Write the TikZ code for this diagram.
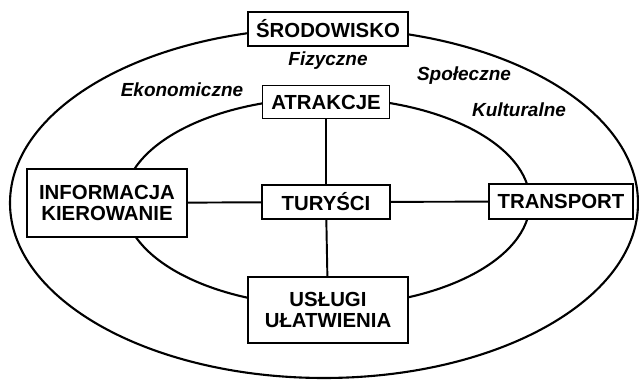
\documentclass[tikz,border=0pt]{standalone}
\usepackage{fontspec}
\setmainfont{Liberation Sans}
\usepackage{tikz}
\usetikzlibrary{positioning}

\begin{document}
\begin{tikzpicture}[
    box/.style={draw, fill=white, line width=0.8pt, inner sep=0pt, align=center,
        font=\fontsize{11.6}{12.4}\selectfont\bfseries},
    factor/.style={font=\fontsize{10.8}{12}\selectfont\bfseries\itshape},
    ring/.style={line width=1.2pt},
    link/.style={line width=1.1pt}]
    \useasboundingbox (0, 0) rectangle (12.78, 7.6);

    % Rings
    \draw[ring] (6.48, 3.54) ellipse [x radius=6.28, y radius=3.5];
    \draw[ring] (6.54, 3.56) ellipse [x radius=4.06, y radius=2.08];

    % Boxes
    \node[box, minimum width=3.2cm, minimum height=0.68cm] (env) at (6.56, 7.02) {ŚRODOWISKO};
    \node[box, minimum width=2.54cm, minimum height=0.66cm] (atr) at (6.52, 5.56) {ATRAKCJE};
    \node[box, minimum width=2.56cm, minimum height=0.68cm] (tur) at (6.52, 3.56) {TURYŚCI};
    \node[box, minimum width=3.2cm, minimum height=1.36cm] (inf) at (2.14, 3.54) {INFORMACJA\\KIEROWANIE};
    \node[box, minimum width=2.88cm, minimum height=0.7cm] (tra) at (11.22, 3.57) {TRANSPORT};
    \node[box, minimum width=3.2cm, minimum height=1.32cm] (usl) at (6.56, 1.40) {USŁUGI\\UŁATWIENIA};

    % Factors
    \node[factor] (fiz) at (6.56, 6.38) {Fizyczne};
    \node[factor] (eko) at (3.64, 5.80) {Ekonomiczne};
    \node[factor] (spo) at (9.28, 6.08) {Społeczne};
    \node[factor] (kul) at (10.38, 5.40) {Kulturalne};

    % Links
    \draw[link] (atr) -- (tur);
    \draw[link] (tur) -- (usl);
    \draw[link] (inf) -- (tur);
    \draw[link] (tur) -- (tra);
\end{tikzpicture}
\end{document}
